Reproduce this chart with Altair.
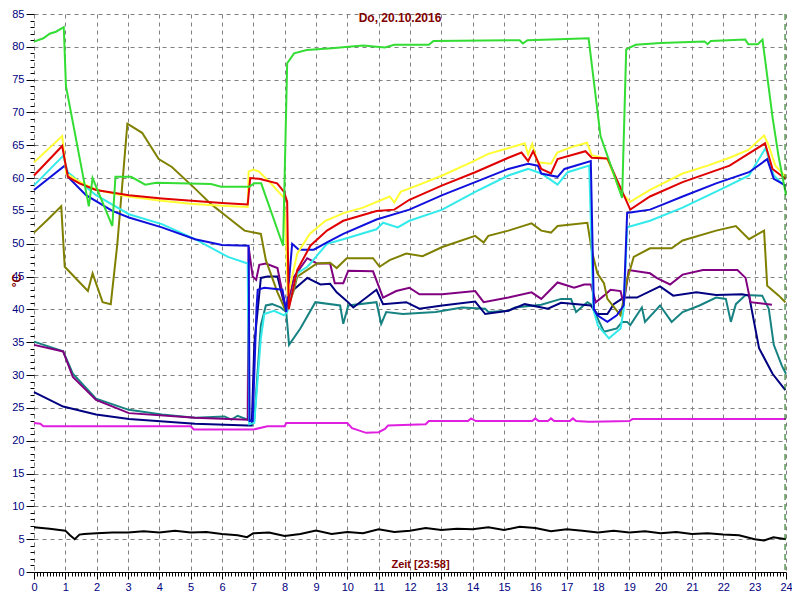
import altair as alt
import pandas as pd

# ---------------- data (hours, °C) ----------------
green_h = [0, 0.3, 0.5, 0.7, 0.95, 1.02, 1.75, 1.87, 2.5, 2.6, 3.1, 3.55, 3.9, 5.65, 5.97, 6.87, 7.03, 7.25, 7.95,
           8.08, 8.3, 8.7, 9.5, 10.5, 11.2, 11.5, 12.6, 12.75, 15.5, 15.6, 15.75, 17.0, 17.7, 18.08, 18.77,
           18.9, 19.2, 20.0, 21.4, 21.5, 21.6, 22.7, 22.8, 23.1, 23.25, 23.57, 23.76, 24.0]
green_v = [80.8, 81.3, 82.0, 82.3, 83.0, 74.0, 55.7, 60.0, 52.7, 60.2, 60.2, 59.0, 59.3, 59.1, 58.7, 58.7, 59.2, 59.2, 49.7,
           77.5, 79.0, 79.5, 79.8, 80.2, 79.9, 80.3, 80.3, 80.9, 81.0, 80.5, 81.0, 81.2, 81.3, 66.4, 57.0,
           79.6, 80.3, 80.6, 80.8, 80.4, 80.9, 81.1, 80.4, 80.4, 81.1, 69.3, 63.4, 57.4]

yellow_h = [0, 0.9, 1.03, 1.5, 2.0, 3.0, 4.0, 5.0, 6.0, 6.82, 6.85, 7.0, 7.18, 7.5, 7.98, 8.05, 8.1, 8.4, 8.8, 9.3,
            9.9, 10.5, 11.35, 11.5, 11.7, 12.3, 13.03, 14.0, 14.5, 15.1, 15.66, 15.77, 15.9, 16.07, 16.5, 16.7,
            17.2, 17.65, 17.8, 18.3, 18.72, 19.03, 19.66, 20.7, 21.5, 22.2, 22.8, 23.3, 23.45, 23.66, 24.0]
yellow_v = [62.4, 66.4, 60.7, 59.3, 58.2, 57.2, 56.6, 56.1, 55.8, 55.6, 61.0, 61.3, 61.0, 59.5, 57.0, 50.0, 42.0, 48.5, 51.5, 53.5,
            54.7, 55.5, 57.2, 56.3, 57.9, 59.0, 60.4, 62.5, 63.7, 64.5, 65.3, 63.6, 65.2, 62.4, 62.2, 63.9,
            64.8, 65.4, 63.5, 62.9, 57.9, 56.4, 58.2, 60.7, 61.9, 63.1, 64.3, 66.5, 64.9, 61.9, 60.2]

red_h = [0, 0.9, 1.08, 1.45, 1.98, 3.03, 4.08, 5.14, 6.0, 6.82, 6.9, 7.18, 7.76, 7.98, 8.08, 8.13, 8.4, 8.82, 9.35,
         9.87, 10.93, 11.5, 11.98, 13.03, 14.08, 15.14, 15.56, 15.77, 15.93, 16.19, 16.5, 16.71, 17.6, 17.8, 18.3,
         19.03, 19.66, 20.7, 22.2, 23.33, 23.57, 23.98]
red_v = [60.4, 64.9, 60.2, 59.2, 58.2, 57.4, 56.9, 56.5, 56.2, 56.0, 60.0, 59.9, 59.2, 57.9, 56.4, 40.0, 46.0, 49.7, 52.0,
         53.5, 55.0, 55.2, 56.7, 58.9, 60.9, 63.1, 63.9, 62.6, 64.1, 61.4, 60.7, 62.9, 64.1, 63.1, 63.0,
         55.2, 57.2, 59.4, 61.9, 65.3, 61.4, 59.9]

blue_h = [0, 0.98, 1.14, 1.66, 2.5, 3.03, 4.08, 5.14, 6.0, 6.85, 6.88, 6.98, 7.1, 7.14, 7.35, 7.93, 8.05, 8.24, 8.45,
          8.93, 9.35, 9.87, 10.93, 11.98, 13.03, 14.08, 15.14, 15.77, 16.08, 16.19, 16.71, 16.93, 17.77, 17.87,
          17.98, 18.3, 18.6, 18.82, 18.93, 19.66, 20.08, 20.7, 21.77, 22.82, 23.4, 23.61, 23.98]
blue_v = [58.2, 61.9, 59.9, 57.4, 55.0, 54.0, 52.5, 50.7, 49.8, 49.7, 23.0, 23.0, 40.0, 43.0, 43.3, 43.0, 39.6, 50.0, 49.1,
          49.1, 50.2, 51.5, 53.7, 55.2, 57.4, 59.4, 61.4, 62.2, 61.9, 60.7, 60.2, 61.4, 62.6, 40.0,
          39.1, 38.1, 39.1, 40.6, 54.7, 55.2, 56.0, 57.2, 59.2, 60.9, 62.9, 59.9, 58.9]

cyan_h = [0, 0.93, 1.08, 1.98, 3.03, 4.08, 5.14, 6.19, 6.82, 6.87, 7.03, 7.24, 7.35, 7.66, 7.98, 8.08, 8.4, 8.72, 8.82,
          9.35, 9.87, 10.93, 11.14, 11.61, 11.98, 13.03, 14.08, 15.14, 15.77, 16.19, 16.71, 17.03, 17.72, 17.85,
          18.0, 18.35, 18.72, 18.82, 18.93, 19.66, 20.7, 22.1, 22.82, 23.35, 23.61, 23.98]
cyan_v = [58.9, 63.4, 60.9, 57.4, 54.5, 53.0, 50.7, 48.0, 47.0, 22.5, 22.7, 35.6, 39.3, 39.8, 39.1, 39.6, 45.5, 46.5, 47.0,
          50.0, 50.7, 52.2, 53.2, 52.5, 53.5, 55.2, 57.9, 60.4, 61.4, 60.7, 59.0, 60.9, 61.9, 40.0,
          37.5, 35.6, 37.1, 40.0, 52.5, 53.5, 55.5, 58.7, 60.4, 64.6, 60.4, 58.7]

olive_h = [0, 0.4, 0.87, 0.98, 1.72, 1.87, 2.19, 2.45, 2.66, 2.98, 3.45, 3.98, 4.4, 5.14, 5.66, 6.19, 6.72, 7.24, 7.4,
           7.77, 8.05, 8.3, 8.4, 9.03, 9.45, 9.66, 9.98, 10.82, 11.03, 11.35, 11.88, 12.4, 13.03, 14.08, 14.35,
           14.5, 15.14, 15.88, 16.19, 16.5, 16.71, 17.66, 17.8, 17.98, 18.19, 18.3, 18.72, 18.93, 19.14, 19.66,
           20.35, 20.7, 21.77, 22.4, 22.82, 23.3, 23.4, 23.77, 23.98]
olive_v = [51.7, 53.5, 55.7, 46.5, 42.8, 45.5, 41.1, 40.8, 50.0, 68.3, 66.9, 62.9, 61.7, 58.4, 56.0, 54.0, 52.0, 51.5, 47.5,
           42.6, 39.6, 43.0, 45.0, 47.0, 47.1, 46.3, 47.8, 47.8, 46.5, 47.5, 48.5, 48.1, 49.5, 51.2, 50.2,
           51.2, 52.0, 53.1, 52.0, 51.7, 52.7, 53.2, 49.0, 45.5, 44.0, 41.6, 39.1, 44.5, 48.0, 49.3,
           49.3, 50.5, 52.0, 52.7, 50.7, 52.0, 43.6, 42.1, 41.1]

purple_h = [0, 0.93, 1.24, 1.98, 3.03, 5.14, 6.82, 6.85, 6.98, 7.09, 7.19, 7.4, 7.77, 8.05, 8.3, 8.72, 9.03, 9.45, 9.6,
            9.87, 10.03, 10.82, 11.14, 11.56, 11.98, 12.3, 13.03, 14.08, 14.35, 15.14, 15.88, 16.19, 16.71, 17.24,
            17.56, 17.77, 17.93, 18.19, 18.4, 18.72, 18.82, 18.98, 19.66, 19.87, 20.3, 20.7, 21.35, 22.45, 22.71,
            22.87, 23.55]
purple_v = [34.6, 33.6, 29.7, 26.2, 24.2, 23.5, 23.2, 49.5, 45.0, 44.5, 46.8, 47.0, 46.3, 39.6, 45.0, 47.8, 47.0, 47.0, 44.0,
            44.0, 45.9, 45.8, 41.8, 42.8, 43.3, 42.3, 42.3, 42.8, 41.1, 41.8, 42.6, 41.6, 44.1, 43.3,
            43.8, 43.8, 41.1, 42.1, 43.0, 42.8, 40.8, 46.0, 45.5, 44.8, 43.8, 45.3, 46.0, 46.0, 44.8,
            41.1, 40.7]

navy_h = [0, 0.93, 1.98, 3.03, 5.14, 6.82, 6.95, 7.03, 7.24, 7.45, 7.77, 8.05, 8.19, 8.72, 9.14, 9.45, 9.66, 9.98,
          10.19, 10.93, 11.14, 11.88, 12.3, 13.03, 14.08, 14.4, 15.14, 15.66, 16.4, 16.82, 17.77, 17.98, 18.3,
          18.5, 18.82, 19.24, 19.98, 20.4, 21.14, 21.77, 22.6, 22.82, 23.14, 23.57, 23.98]
navy_v = [27.4, 25.2, 24.0, 23.3, 22.6, 22.3, 22.3, 34.6, 44.8, 45.0, 45.0, 39.6, 42.6, 44.8, 43.8, 43.9, 42.6, 41.3,
          40.3, 43.0, 40.8, 41.1, 40.1, 40.6, 41.2, 39.3, 39.8, 40.8, 40.1, 41.0, 40.6, 39.3, 39.3,
          40.8, 41.8, 41.8, 43.5, 42.1, 42.6, 42.2, 42.3, 42.1, 34.1, 30.2, 27.7]

teal_h = [0, 0.93, 1.24, 1.98, 3.03, 4.08, 5.14, 6.08, 6.3, 6.5, 6.82, 7.03, 7.24, 7.4, 7.6, 7.87, 8.05, 8.14, 8.5,
          8.98, 9.77, 9.87, 10.03, 10.93, 11.08, 11.24, 11.77, 12.82, 13.66, 14.4, 14.5, 15.14, 15.35, 16.19,
          16.82, 17.14, 17.3, 17.66, 17.77, 18.04, 18.19, 18.6, 18.77, 18.93, 19.03, 19.4, 19.5, 19.98, 20.35,
          20.7, 21.24, 21.77, 22.08, 22.24, 22.4, 22.71, 23.24, 23.45, 23.61, 23.87, 24.0]
teal_v = [35.1, 33.6, 30.2, 26.4, 24.7, 24.0, 23.5, 23.7, 23.2, 23.8, 23.2, 23.2, 37.6, 40.6, 40.8, 40.3, 39.6, 34.6, 37.1,
          41.1, 40.6, 37.8, 40.6, 41.1, 37.8, 39.6, 39.3, 39.6, 40.3, 40.1, 39.6, 39.8, 40.3, 40.7,
          41.6, 41.6, 39.6, 41.1, 40.8, 38.1, 36.6, 37.1, 38.1, 38.1, 37.6, 40.3, 38.1, 40.6, 38.1,
          39.6, 40.6, 41.8, 41.6, 38.1, 40.8, 42.2, 42.1, 40.1, 34.6, 31.4, 30.2]

magenta_h = [0, 0.2, 0.3, 5.0, 5.1, 7.0, 7.45, 8.0, 8.05, 10.0, 10.15, 10.6, 11.0, 11.2, 11.3, 12.5, 12.6, 13.85,
             13.95, 14.1, 15.9, 16.0, 16.1, 16.4, 16.5, 16.6, 17.1, 17.2, 17.3, 17.7, 17.8, 19.0, 19.1, 24.0]
magenta_v = [22.7, 22.6, 22.2, 22.2, 21.7, 21.7, 22.2, 22.2, 22.7, 22.7, 21.9, 21.2, 21.3, 21.8, 22.3, 22.5, 23.0, 23.0,
             23.4, 23.0, 23.0, 23.4, 23.0, 23.0, 23.4, 23.0, 23.0, 23.4, 23.0, 22.9, 22.9, 23.0, 23.3, 23.3]

black_h = [0, 0.5, 1.0, 1.15, 1.3, 1.45, 1.6, 2.0, 2.5, 3.0, 3.5, 4.0, 4.5, 5.0, 5.5, 6.0, 6.5, 6.8, 7.0, 7.5, 8.0,
           8.5, 9.0, 9.5, 10.0, 10.5, 11.0, 11.5, 12.0, 12.5, 13.0, 13.5, 14.0, 14.5, 15.0, 15.5, 16.0, 16.5, 17.0,
           17.5, 18.0, 18.5, 19.0, 19.5, 20.0, 20.5, 21.0, 21.5, 22.0, 22.5, 23.0, 23.3, 23.6, 24.0]
black_v = [6.8, 6.6, 6.3, 5.6, 5.0, 5.7, 5.8, 5.9, 6.0, 6.0, 6.2, 6.0, 6.3, 6.0, 6.1, 5.8, 5.6, 5.3, 5.9, 6.0, 5.5,
           5.8, 6.3, 5.8, 6.1, 5.9, 6.5, 6.1, 6.3, 6.7, 6.4, 6.6, 6.5, 6.8, 6.4, 6.9, 6.7, 6.2, 6.5,
           6.3, 6.0, 6.3, 6.0, 6.2, 5.9, 6.1, 5.8, 5.9, 5.7, 5.6, 5.0, 4.8, 5.3, 5.0]

series_names = ["schwarz", "magenta", "petrol", "navy", "lila", "oliv", "cyan", "blau", "gelb", "rot", "gruen"]
series_colors = ["#000000", "#e020e0", "#178282", "#000080", "#800080", "#808000", "#33eaea", "#1010dd",
                 "#ffff33", "#e00000", "#33dd33"]
series_hours = [black_h, magenta_h, teal_h, navy_h, purple_h, olive_h, cyan_h, blue_h, yellow_h, red_h, green_h]
series_values = [black_v, magenta_v, teal_v, navy_v, purple_v, olive_v, cyan_v, blue_v, yellow_v, red_v, green_v]

x_major = list(range(0, 25))
x_minor = [i / 10 for i in range(0, 241) if i % 10 != 0]
y_major = list(range(0, 86, 5))
y_minor = [v for v in range(0, 86) if v % 5 != 0]
now_marker = [23.97]

title_text = "Do, 20.10.2016"
x_title = "Zeit [23:58]"
y_title = "°C"

rows = []
for name, hs, vs in zip(series_names, series_hours, series_values):
    for i, (h, v) in enumerate(zip(hs, vs)):
        rows.append({"serie": name, "stunde": h, "wert": v, "idx": i})
df = pd.DataFrame(rows)
marker_df = pd.DataFrame({"stunde": now_marker})
title_df = pd.DataFrame({"titel": [title_text]})

FONT = "Liberation Sans"
W, H = 752, 558
xscale = alt.Scale(domain=[0, 24], nice=False, zero=False)
yscale = alt.Scale(domain=[0, 85], nice=False, zero=False)

x_axis = alt.Axis(values=x_major, format="d", orient="bottom", labelColor="#000080", labelFont=FONT,
                  labelFontSize=11, labelPadding=2, tickSize=7, tickColor="#000000", domainColor="#000000",
                  grid=True, gridDash=[4, 4], gridColor="#808080", gridWidth=1,
                  title=x_title, titleColor="#800000", titleFont=FONT, titleFontSize=11,
                  titleFontWeight="bold", titleX=386, titleY=-3, titleBaseline="bottom", titleAlign="center",
                  labelFlush=False)
y_axis = alt.Axis(values=y_major, format="d", orient="left", labelColor="#000080", labelFont=FONT,
                  labelFontSize=11, labelPadding=2, tickSize=8, tickColor="#000000", domain=False,
                  grid=True, gridDash=[4, 4], gridColor="#808080", gridWidth=1,
                  title=y_title, titleColor="#800000", titleFont=FONT, titleFontSize=12,
                  titleFontWeight="bold", titleX=-18, titleY=266, titleAlign="center", titleBaseline="middle",
                  titleAngle=270)

lines = alt.Chart(df).mark_line(strokeWidth=2, interpolate="linear").encode(
    x=alt.X("stunde:Q", scale=xscale, axis=x_axis),
    y=alt.Y("wert:Q", scale=yscale, axis=y_axis),
    color=alt.Color("serie:N", scale=alt.Scale(domain=series_names, range=series_colors), legend=None),
    order=alt.Order("idx:Q"),
)

x_axis_minor = alt.Axis(values=x_minor, orient="bottom", labels=False, tickSize=4, tickColor="#000000",
                        domain=False, grid=False, title=None)
y_axis_minor = alt.Axis(values=y_minor, orient="left", labels=False, tickSize=4, tickColor="#000000",
                        domain=False, grid=False, title=None)

minor = alt.Chart(df).mark_point(opacity=0).encode(
    x=alt.X("stunde:Q", scale=xscale, axis=x_axis_minor),
    y=alt.Y("wert:Q", scale=yscale, axis=y_axis_minor),
)

marker = alt.Chart(marker_df).mark_rule(color="#006400", strokeDash=[6, 4], strokeWidth=1).encode(
    x=alt.X("stunde:Q", scale=xscale, axis=None),
)

title_mark = alt.Chart(title_df).mark_text(font=FONT, fontSize=12, fontWeight="bold", color="#800000",
                                           align="center", baseline="middle").encode(
    text="titel:N", x=alt.value(366), y=alt.value(4),
)

chart = alt.layer(lines, minor, marker, title_mark).resolve_axis(x="independent", y="independent").properties(
    width=W, height=H,
    autosize=alt.AutoSizeParams(type="none"),
    padding={"left": 26, "top": 6, "right": 6, "bottom": 20},
    background="#ffffff",
).configure_view(stroke=None)

chart.save("out.html", embed_options={"renderer": "svg", "actions": False})
